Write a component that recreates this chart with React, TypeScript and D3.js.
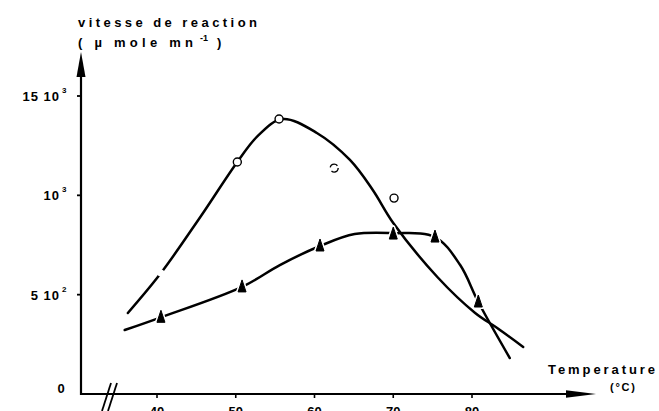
import React from "react";
import * as d3 from "d3";

// Observed points (open circles)
const circleTemps = [40.5, 50.2, 55.5, 62.5, 70.1];
const circleRates = [609, 1168, 1384, 1137, 986];

// Observed points (filled triangles)
const triangleTemps = [40.5, 50.8, 60.7, 70, 75.3, 80.8];
const triangleRates = [386, 539, 745, 805, 790, 463];

// Hand-drawn fitted curve through the circles
const circleCurveTemps = [36.3, 40.5, 45.5, 50.2, 52.8, 55.9, 60.3, 64.5, 67.4, 70.0, 75.6, 80.4, 83.2, 86.5];
const circleCurveRates = [408, 609, 891, 1168, 1299, 1384, 1314, 1178, 1027, 861, 589, 408, 332, 237];

// Hand-drawn fitted curve through the triangles
const triangleCurveTemps = [35.9, 40.5, 50.8, 55.6, 60.7, 65.1, 70.0, 75.3, 78.5, 80.8, 84.8];
const triangleCurveRates = [322, 386, 539, 649, 745, 805, 810, 790, 649, 463, 181];

const xTicks = [40, 50, 60, 70, 80];
const yTicks = [500, 1000, 1500];
const yTickMain = ["5 10", "10", "15 10"];
const yTickSup = ["2", "3", "3"];

const W = 659;
const H = 411;
const FONT = "'Liberation Sans', Arial, sans-serif";

export default function App() {
  const x = d3.scaleLinear().domain([40, 80]).range([157, 472]);
  const y = d3.scaleLinear().domain([0, 1500]).range([394, 96]);
  const axisX = 81;
  const axisY = y(0);

  const line = d3
    .line<[number, number]>()
    .x((d) => x(d[0]))
    .y((d) => y(d[1]))
    .curve(d3.curveCatmullRom.alpha(0.5));

  const circleCurve = circleCurveTemps.map((t, i) => [t, circleCurveRates[i]] as [number, number]);
  const triangleCurve = triangleCurveTemps.map((t, i) => [t, triangleCurveRates[i]] as [number, number]);

  const tri = "M0,-7 L4,5 L-4,5 Z";

  return (
    <svg
      width={W}
      height={H}
      style={{ position: "absolute", left: 0, top: 0, background: "#fff" }}
      fontFamily={FONT}
      fontWeight="bold"
    >
      <rect x={0} y={0} width={W} height={H} fill="#fff" />
      {/* curves */}
      <path d={line(circleCurve) || ""} fill="none" stroke="#000" strokeWidth={2.5} strokeLinecap="round" />
      <path d={line(triangleCurve) || ""} fill="none" stroke="#000" strokeWidth={2.5} strokeLinecap="round" />

      {/* circle markers */}
      {circleTemps.map((t, i) => (
        <circle
          key={"c" + i}
          cx={x(t)}
          cy={y(circleRates[i])}
          r={i === 0 ? 2.5 : 4}
          fill="#fff"
          stroke={i === 0 ? "#fff" : "#000"}
          strokeWidth={i === 0 ? 2 : 1.4}
          strokeDasharray={i === 3 ? "9 4" : undefined}
        />
      ))}
      {/* triangle markers */}
      {triangleTemps.map((t, i) => (
        <g key={"t" + i} transform={`translate(${x(t)},${y(triangleRates[i])})`}>
          <path d={tri} fill="#000" stroke="#fff" strokeWidth={4} strokeLinejoin="round" />
          <path d={tri} fill="#000" stroke="#000" strokeWidth={1} strokeLinejoin="round" />
        </g>
      ))}

      {/* y axis */}
      <line x1={axisX} y1={axisY + 1} x2={axisX} y2={70} stroke="#000" strokeWidth={2.2} />
      <path d={`M${axisX},52 L${axisX + 4.5},77 L${axisX - 4.5},77 Z`} fill="#000" />
      {yTicks.map((v, i) => (
        <g key={"yt" + i}>
          <line x1={axisX - 4} x2={axisX} y1={y(v)} y2={y(v)} stroke="#000" strokeWidth={1.8} />
          <text x={60} y={y(v) + 5} textAnchor="end" fontSize={13} letterSpacing={1}>
            {yTickMain[i]}
          </text>
          <text x={62} y={y(v) - 3} fontSize={8}>
            {yTickSup[i]}
          </text>
        </g>
      ))}
      <text x={61} y={axisY - 1} textAnchor="middle" fontSize={13}>0</text>

      {/* x axis */}
      <line x1={axisX - 1} y1={axisY} x2={575} y2={axisY} stroke="#000" strokeWidth={2.2} />
      <path d={`M596,${axisY} L566,${axisY - 3.8} L566,${axisY + 3.8} Z`} fill="#000" />
      {/* axis break marks */}
      <line x1={111} y1={383} x2={102} y2={411} stroke="#000" strokeWidth={1.8} />
      <line x1={117} y1={383} x2={108} y2={411} stroke="#000" strokeWidth={1.8} />
      {xTicks.map((v, i) => (
        <g key={"xt" + i}>
          <line x1={x(v)} x2={x(v)} y1={axisY} y2={axisY + 4} stroke="#000" strokeWidth={1.6} />
          <text x={x(v)} y={416} textAnchor="middle" fontSize={13}>{v}</text>
        </g>
      ))}

      {/* axis titles */}
      <text x={78} y={27} fontSize={13} textLength={179} lengthAdjust="spacing">vitesse de reaction</text>
      <text x={78} y={47} fontSize={13} textLength={115} lengthAdjust="spacing">( µ mole mn</text>
      <text x={200} y={41} fontSize={9}>-1</text>
      <text x={217} y={47} fontSize={13}>)</text>
      <text x={548} y={374} fontSize={13} textLength={107} lengthAdjust="spacing">Temperature</text>
      <text x={610} y={391} fontSize={11} textLength={25} lengthAdjust="spacing">(°C)</text>
    </svg>
  );
}
